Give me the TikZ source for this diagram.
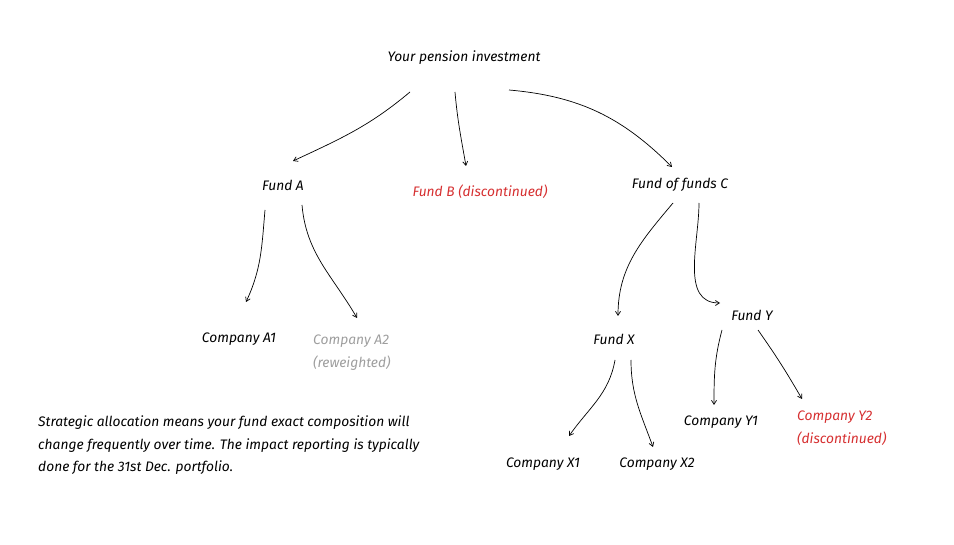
\documentclass[tikz,border=0pt]{standalone}
\usepackage{fontspec}
\setmainfont{Fira Sans}
\usepackage{tikz}
\usetikzlibrary{arrows.meta,calc}
\definecolor{dropred}{RGB}{214,48,49}
\definecolor{fadegray}{RGB}{158,158,158}

\begin{document}
\begin{tikzpicture}[
				x=1pt, y=1pt,
				holding/.style={
					inner sep=0pt,
					font=\fontsize{13.8}{22.5}\selectfont\itshape,
					align=left
				},
				dropped/.style={holding, text=dropred},
				faded/.style={holding, text=fadegray},
				link/.style={
					-{Straight Barb[length=4pt,width=5pt]},
					line width=0.7pt
				}
				]
				\useasboundingbox (0,0) rectangle (954,-545);
				
				\node[holding] (root) at (464,-58) {Your pension investment};
				
				\node[holding] (funda) at (283,-185) {Fund A};
				\node[dropped] (fundb) at (480,-192) {Fund B (discontinued)};
				\node[holding] (fundc) at (680,-185) {Fund of funds C};
				
				\node[holding] (coa1) at (239,-339) {Company A1};
				\node[faded, anchor=north west] (coa2) at (313,-335) {Company A2\\(reweighted)};
				
				\node[holding] (fundx) at (614,-339) {Fund X};
				\node[holding] (fundy) at (752,-315) {Fund Y};
				
				\node[holding] (cox1) at (543,-464) {Company X1};
				\node[holding] (cox2) at (657,-464) {Company X2};
				\node[holding] (coy1) at (721,-422) {Company Y1};
				\node[dropped, anchor=north west] (coy2) at (797,-411) {Company Y2\\(discontinued)};
				
				\node[holding, anchor=north west] (note) at (38,-416) {Strategic allocation means your fund exact composition will\\change frequently over time. The impact reporting is typically\\done for the 31st Dec. portfolio.};
				
				% top level
				\draw[link] ($(root)+(-54,-34)$) to[out=220, in=25] ($(funda)+(10,24)$);
				\draw[link] ($(root)+(-9,-34)$) to[out=-85, in=100] ($(fundb)+(-14,26)$);
				\draw[link] ($(root)+(45,-32)$) to[out=-5, in=135] ($(fundc)+(-8,18)$);
				
				% fund A
				\draw[link] ($(funda)+(-18,-25)$) to[out=-95, in=65] ($(coa1)+(7,37)$);
				\draw[link] ($(funda)+(19,-20)$) to[out=-85, in=120] ($(coa2.north west)+(44,17)$);
				
				% fund of funds C
				\draw[link] ($(fundc)+(-7,-18)$) to[out=-130, in=90] ($(fundx)+(4,23)$);
				\draw[link] ($(fundc)+(19,-18)$) to[out=-90, in=180] ($(fundy)+(-32,12)$);
				
				% fund X and fund Y
				\draw[link] ($(fundx)+(1,-21)$) to[out=-100, in=55] ($(cox1)+(26,28)$);
				\draw[link] ($(fundx)+(17,-21)$) to[out=-90, in=110] ($(cox2)+(-4,17)$);
				\draw[link] ($(fundy)+(-30,-15)$) to[out=-105, in=90] ($(coy1)+(-7,17)$);
				\draw[link] ($(fundy)+(6,-15)$) to[out=-55, in=120] ($(coy2.north west)+(5,12)$);
			\end{tikzpicture}
\end{document}
